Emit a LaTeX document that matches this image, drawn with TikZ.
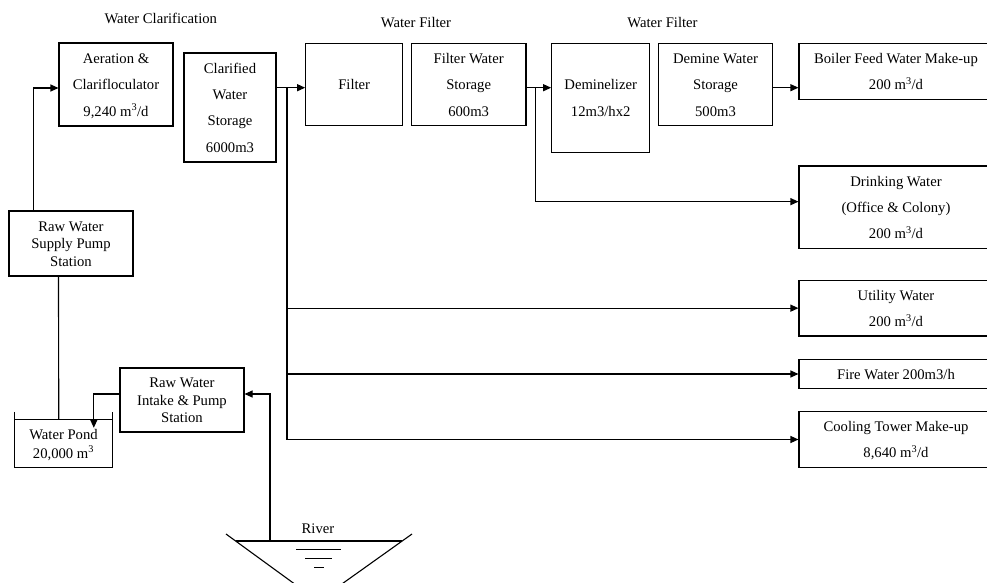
\documentclass[tikz,border=0pt]{standalone}
\usepackage{fontspec}
\setmainfont{Liberation Serif}
\usetikzlibrary{arrows.meta}
\newcommand{\ls}{\rule[-3.4pt]{0pt}{17.4pt}}
\newcommand{\mcube}{m\textsuperscript{3}}
\begin{document}
\begin{tikzpicture}[x=1pt,y=-1pt,
  box/.style={draw, line width=1.1pt, inner sep=0pt, align=center, font=\fontsize{14.67pt}{26.3pt}\selectfont},
  tbox/.style={box, font=\fontsize{14.67pt}{17.5pt}\selectfont},
  pondn/.style={inner sep=0pt, align=center, font=\fontsize{14.67pt}{17pt}\selectfont},
  lbl/.style={inner sep=0pt, anchor=base, font=\fontsize{14.67pt}{17.5pt}\selectfont},
  conn/.style={line width=1.1pt},
  arr/.style={conn, -{Triangle[length=8pt,width=7pt]}},
]
\clip (0,0) rectangle (987,583);

% titles
\node[lbl] (t1) at (160.8,23.5) {Water Clarification};
\node[lbl] (t2) at (416,27.5) {Water Filter};
\node[lbl] (t3) at (662.5,27.5) {Water Filter};

% top row
\node[box, minimum width=114pt, minimum height=83pt] (aer) at (116,84.5)
  {\ls Aeration \&\\\ls Clarifloculator\\\ls 9,240 \mcube/d};
\node[box, minimum width=92pt, minimum height=109pt] (clar) at (230,107.5)
  {\ls Clarified\\\ls Water\\\ls Storage\\\ls 6000m3};
\node[box, minimum width=97pt, minimum height=82.4pt] (filt) at (354.2,84.5)
  {\ls Filter};
\node[box, minimum width=114.7pt, minimum height=82.4pt] (fws) at (468.65,84.5)
  {\ls Filter Water\\\ls Storage\\\ls 600m3};
\node[box, minimum width=98pt, minimum height=109pt] (demi) at (600.7,97.8)
  {\ls Deminelizer\\\ls 12m3/hx2};
\node[box, minimum width=114.4pt, minimum height=82.4pt] (dws) at (715.5,84.5)
  {\ls Demine Water\\\ls Storage\\\ls 500m3};

% right column (cut by the page edge)
\node[box, minimum width=194pt, minimum height=56pt] (boiler) at (896,71.3)
  {\ls Boiler Feed Water Make-up\\\ls 200 \mcube/d};
\node[box, minimum width=194pt, minimum height=82.3pt] (drink) at (896,207.15)
  {\ls Drinking Water\\\ls (Office \& Colony)\\\ls 200 \mcube/d};
\node[box, minimum width=194pt, minimum height=55.7pt] (util) at (896,308.15)
  {\ls Utility Water\\\ls 200 \mcube/d};
\node[box, minimum width=194pt, minimum height=29.4pt] (fire) at (896,374)
  {\ls Fire Water 200m3/h};
\node[box, minimum width=194pt, minimum height=55.6pt] (cool) at (896,439.5)
  {\ls Cooling Tower Make-up\\\ls 8,640 \mcube/d};

% left part
\node[tbox, minimum width=124pt, minimum height=65pt] (supply) at (71,243.5)
  {\ls Raw Water\\\ls Supply Pump\\\ls Station};
\node[tbox, minimum width=124pt, minimum height=64pt] (intake) at (182,400)
  {\ls Raw Water\\\ls Intake \& Pump\\\ls Station};
\node[pondn, minimum width=97pt, minimum height=47pt] (pond) at (63.5,443.5)
  {\ls Water Pond\\\ls 20,000 \mcube};
\draw[conn] ([yshift=8pt]pond.north west) -- (pond.south west) -- (pond.south east) -- ([yshift=8pt]pond.north east);
\draw[conn] (pond.north west) -- (pond.north east);

% river
\node[lbl] (river) at (318,533.5) {River};
\draw[conn] (226,534) -- (318,601) -- (412,534);
\draw[conn] (235.6,541) -- (402,541);
\draw[line width=1pt] (296,549) -- (341,549) (305,558) -- (332,558) (314,567) -- (324,567);
\coordinate (rv) at (270,541);

% connectors
\coordinate (j1) at (287,87.7);
\coordinate (j2) at (535.3,87.7);
\draw[arr] ([xshift=25pt]supply.north west) |- ([yshift=-3.5pt]aer.west);
\draw[arr] (clar.east |- j1) -- (filt.west |- j1);
\draw[arr] (j1) |- (util.west);
\draw[arr] (j1) |- (fire.west);
\draw[arr] (j1) |- (cool.west);
\draw[arr] (fws.east |- j2) -- (demi.west |- j2);
\draw[arr] (j2) |- ([yshift=5.5pt]drink.west);
\draw[arr] (dws.east |- j2) -- (boiler.west |- j2);
\draw[conn] ([xshift=50pt]supply.south west) -- ([xshift=44pt]pond.north west);
\draw[arr] ([yshift=6pt]intake.west) -| ([xshift=79pt,yshift=-8pt]pond.north west);
\draw[arr] (rv) |- ([yshift=6pt]intake.east);
\end{tikzpicture}
\end{document}
